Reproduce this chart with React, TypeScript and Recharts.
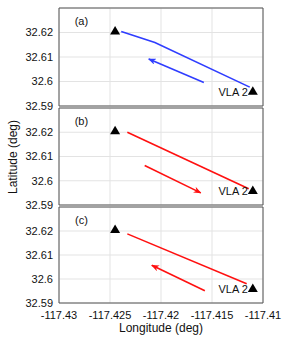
import React from "react";
import {
  ComposedChart,
  Line,
  Scatter,
  XAxis,
  YAxis,
  CartesianGrid,
  ReferenceArea,
  ReferenceDot,
} from "recharts";

const lonTicks = [-117.43, -117.425, -117.42, -117.415, -117.41];
const latTicks = [32.59, 32.6, 32.61, 32.62];
const lonDomain = [-117.43, -117.41];
const latDomain = [32.59, 32.63];

// stations: unnamed start point and VLA 2
const stations = [
  { lon: -117.4245, lat: 32.6208, name: "" },
  { lon: -117.411, lat: 32.5962, name: "VLA 2" },
];

const trackA = [
  { lon: -117.4239, lat: 32.6204 },
  { lon: -117.4206, lat: 32.6159 },
  { lon: -117.4113, lat: 32.5977 },
];
const arrowA = [
  { lon: -117.4158, lat: 32.5996 },
  { lon: -117.4212, lat: 32.6092 },
];

const trackB = [
  { lon: -117.4233, lat: 32.62 },
  { lon: -117.4114, lat: 32.5967 },
];
const arrowB = [
  { lon: -117.4216, lat: 32.6063 },
  { lon: -117.4161, lat: 32.595 },
];

const trackC = [
  { lon: -117.4233, lat: 32.6188 },
  { lon: -117.4116, lat: 32.598 },
];
const arrowC = [
  { lon: -117.4157, lat: 32.5951 },
  { lon: -117.4209, lat: 32.6057 },
];

const panelLabelPos = { lon: -117.4278, lat: 32.6245 };

const BLUE = "#2f3dff";
const RED = "#ff1010";
const FONT = "'Liberation Sans', Arial, sans-serif";

const fmtLat = (v: number) => String(parseFloat(v.toFixed(2)));
const fmtLon = (v: number) => String(parseFloat(v.toFixed(3)));

const StationShape = (props: any) => {
  const { cx, cy, payload } = props;
  if (cx == null || cy == null) return null;
  return (
    <g>
      <polygon
        points={`${cx},${cy - 4.5} ${cx - 5},${cy + 4} ${cx + 5},${cy + 4}`}
        fill="#000"
      />
      {payload.name ? (
        <text
          x={cx - 5}
          y={cy + 2}
          textAnchor="end"
          dominantBaseline="middle"
          fontSize={11}
          fontFamily={FONT}
          fill="#111"
        >
          {payload.name}
        </text>
      ) : null}
    </g>
  );
};

interface PanelProps {
  label: string;
  track: { lon: number; lat: number }[];
  arrow: { lon: number; lat: number }[];
  color: string;
  marker: string;
  showX: boolean;
  top: number;
  height: number;
}

const Panel = ({ label, track, arrow, color, marker, showX, top, height }: PanelProps) => (
  <div style={{ position: "absolute", left: 0, top }}>
    <ComposedChart
      width={294}
      height={height}
      margin={{ top: 8, right: 31, bottom: showX ? 0 : 10, left: 0 }}
    >
      <CartesianGrid stroke="#e3e3e3" />
      <XAxis
        xAxisId={0}
        type="number"
        dataKey="lon"
        domain={lonDomain}
        ticks={lonTicks}
        allowDataOverflow
        hide={!showX}
        height={35}
        axisLine={false}
        tickLine={false}
        tickSize={4}
        tickMargin={4}
        tickFormatter={fmtLon}
        tick={{ fontSize: 11, fill: "#111", fontFamily: FONT }}
        interval={0}
      />
      <XAxis
        xAxisId="top"
        orientation="top"
        type="number"
        dataKey="lon"
        domain={lonDomain}
        ticks={lonTicks}
        allowDataOverflow
        mirror
        height={0}
        axisLine={false}
        tick={false}
        tickSize={3}
        stroke="#555"
      />
      <YAxis
        yAxisId={0}
        type="number"
        dataKey="lat"
        domain={latDomain}
        ticks={latTicks}
        allowDataOverflow
        width={59}
        axisLine={false}
        tickLine={false}
        tickSize={4}
        tickMargin={2}
        tickFormatter={fmtLat}
        tick={{ fontSize: 11, fill: "#111", fontFamily: FONT }}
        interval={0}
      />
      <YAxis
        yAxisId="right"
        orientation="right"
        type="number"
        domain={latDomain}
        ticks={latTicks}
        allowDataOverflow
        mirror
        width={0}
        axisLine={false}
        tick={false}
        tickSize={3}
        stroke="#555"
      />
      <ReferenceArea
        x1={lonDomain[0]}
        x2={lonDomain[1]}
        y1={latDomain[0]}
        y2={latDomain[1]}
        fill="none"
        stroke="#555"
        strokeWidth={1}
        fillOpacity={0}
      />
      <Line
        data={track}
        dataKey="lat"
        stroke={color}
        strokeWidth={1.6}
        dot={false}
        isAnimationActive={false}
        type="linear"
      />
      <Line
        data={arrow}
        dataKey="lat"
        stroke={color}
        strokeWidth={1.6}
        dot={false}
        isAnimationActive={false}
        type="linear"
        markerEnd={`url(#${marker})`}
      />
      <Scatter
        data={stations}
        dataKey="lat"
        shape={<StationShape />}
        isAnimationActive={false}
      />
      <ReferenceDot
        x={panelLabelPos.lon}
        y={panelLabelPos.lat}
        r={0}
        fill="none"
        stroke="none"
        label={{ value: label, position: "center", fontSize: 11, fill: "#111", fontFamily: FONT }}
      />
    </ComposedChart>
  </div>
);

export default function App() {
  return (
    <div
      style={{
        position: "absolute",
        left: 0,
        top: 0,
        width: 294,
        height: 338,
        background: "#fff",
        fontFamily: FONT,
        overflow: "hidden",
      }}
    >
      <svg width={0} height={0} style={{ position: "absolute" }}>
        <defs>
          <marker id="headBlue" viewBox="0 0 10 8" refX={9} refY={4} markerWidth={5} markerHeight={4} orient="auto" markerUnits="strokeWidth">
            <path d="M0,0 L10,4 L0,8 L3,4 Z" fill={BLUE} />
          </marker>
          <marker id="headRed" viewBox="0 0 10 8" refX={9} refY={4} markerWidth={5} markerHeight={4} orient="auto" markerUnits="strokeWidth">
            <path d="M0,0 L10,4 L0,8 L3,4 Z" fill={RED} />
          </marker>
        </defs>
      </svg>
      <Panel label="(a)" track={trackA} arrow={arrowA} color={BLUE} marker="headBlue" showX={false} top={0} height={116} />
      <Panel label="(b)" track={trackB} arrow={arrowB} color={RED} marker="headRed" showX={false} top={100} height={115} />
      <Panel label="(c)" track={trackC} arrow={arrowC} color={RED} marker="headRed" showX top={199} height={139} />
      <div
        style={{
          position: "absolute",
          left: 13,
          top: 157,
          transform: "translate(-50%, -50%) rotate(-90deg)",
          fontSize: 12,
          whiteSpace: "nowrap",
          color: "#111",
        }}
      >
        Latitude (deg)
      </div>
      <div
        style={{
          position: "absolute",
          left: 161,
          top: 328,
          transform: "translate(-50%, -50%)",
          fontSize: 12,
          whiteSpace: "nowrap",
          color: "#111",
        }}
      >
        Longitude (deg)
      </div>
    </div>
  );
}
